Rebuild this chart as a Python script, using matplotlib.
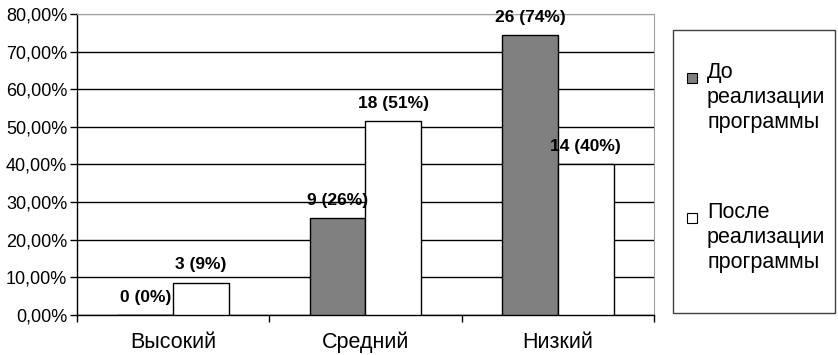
import matplotlib.pyplot as plt
import matplotlib
from matplotlib.patches import Rectangle
from matplotlib.ticker import FuncFormatter
import numpy as np

matplotlib.rcParams['font.family'] = ['Liberation Sans', 'DejaVu Sans']

categories = ['Высокий', 'Средний', 'Низкий']
before_counts = [0, 9, 26]
after_counts = [3, 18, 14]
before_pct = [0.0, 25.71, 74.29]
after_pct = [8.57, 51.43, 40.0]
before_name = 'До\nреализации\nпрограммы'
after_name = 'После\nреализации\nпрограммы'

fig = plt.figure(figsize=(8.38, 3.55), dpi=100)
ax = fig.add_axes([0.0919, 0.1127, 0.6885, 0.8479])

x = np.arange(len(categories))
w = 0.29
b1 = ax.bar(x - w / 2, before_pct, width=w, color='#808080', edgecolor='black', linewidth=1, zorder=3)
b2 = ax.bar(x + w / 2, after_pct, width=w, color='white', edgecolor='black', linewidth=1, zorder=3)

# подписи над столбцами
for bars, counts, pcts in [(b1, before_counts, before_pct), (b2, after_counts, after_pct)]:
    for r, c, p in zip(bars, counts, pcts):
        ax.annotate('%d (%d%%)' % (c, round(p)), (r.get_x() + r.get_width() / 2, r.get_height()),
                    xytext=(0, 7.5), textcoords='offset points', ha='center', va='bottom',
                    fontsize=12.5, fontweight='bold', annotation_clip=False, zorder=4)

ax.set_xlim(-0.5, 2.5)
ax.set_ylim(0, 80)
ax.set_yticks(range(0, 81, 10))
ax.yaxis.set_major_formatter(FuncFormatter(lambda v, p: ('%.2f%%' % v).replace('.', ',')))
ax.tick_params(axis='y', labelsize=13, length=5, width=1, direction='out', pad=2)

ax.set_xticks([-0.5, 0.5, 1.5, 2.5])
ax.set_xticklabels([])
ax.set_xticks(x, minor=True)
ax.set_xticklabels(categories, minor=True, fontsize=15.5)
for lbl in ax.get_xticklabels(minor=True):
    lbl.set_verticalalignment('baseline')
ax.tick_params(axis='x', which='major', length=5, width=1, direction='out')
ax.tick_params(axis='x', which='minor', length=0, pad=23.5)

ax.grid(axis='y', color='black', linewidth=1, zorder=0)
ax.set_axisbelow(True)
ax.get_ygridlines()[-1].set_color('#a0a0a0')
for s in ['top', 'right']:
    ax.spines[s].set_color('#a0a0a0')
for s in ['left', 'bottom']:
    ax.spines[s].set_color('black')
    ax.spines[s].set_linewidth(1)

# легенда вручную
fig.patches.append(Rectangle((0.803, 0.118), 0.194, 0.797, transform=fig.transFigure,
                             facecolor='white', edgecolor='#404040', linewidth=1))
for i, (name, col) in enumerate([(before_name, '#808080'), (after_name, 'white')]):
    ytop = 1 - (73 + 140 * i) / 355
    fig.patches.append(Rectangle((687 / 838, ytop - 10 / 355), 10 / 838, 10 / 355, transform=fig.transFigure,
                                 facecolor=col, edgecolor='black', linewidth=0.8))
    fig.text(707 / 838, ytop + 11 / 355, name, fontsize=15.5, va='top', ha='left', linespacing=1.25)

fig.savefig('out.png', dpi=100)
